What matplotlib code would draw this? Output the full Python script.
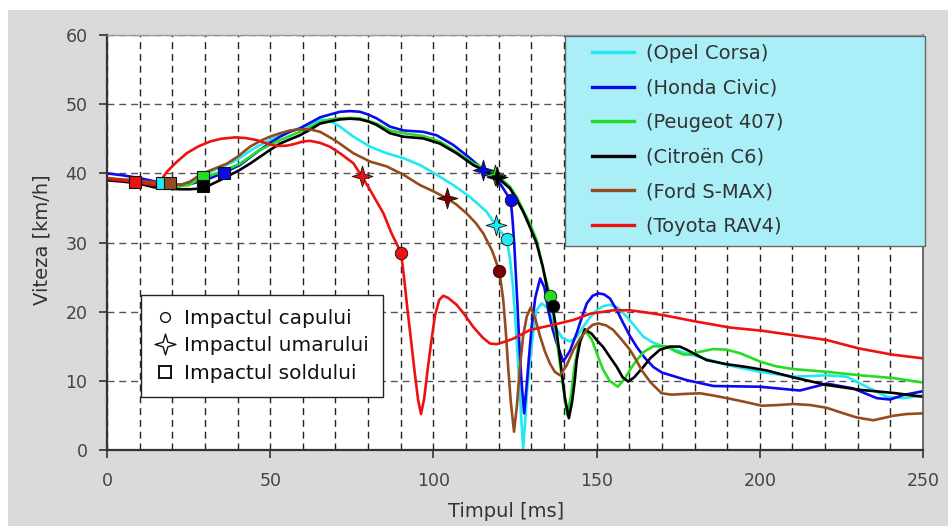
import matplotlib
matplotlib.use("Agg")
import matplotlib.pyplot as plt
import matplotlib.path as mpath
from matplotlib.lines import Line2D
from matplotlib.patches import Rectangle

# ---- data (time in ms, speed in km/h) ----
cars = ["(Opel Corsa)", "(Honda Civic)", "(Peugeot 407)", "(Citroën C6)", "(Ford S-MAX)", "(Toyota RAV4)"]

corsa_t = [0, 5, 10, 14, 16.8, 20, 23, 26.4, 29, 31.6, 35.5, 39.7, 43, 45.9, 49, 52, 55.5, 59.1, 62.2, 65.3,
           68.3, 71.4, 75.5, 80.6, 85.7, 90.8, 95.9, 101, 106.1, 111.2, 116.3, 119.1, 122.5, 123.5, 124.3, 125,
           125.7, 126.4, 127, 127.5, 128.1, 128.7, 129.6, 130.6, 131.6, 133.2, 135, 137.3, 139.5, 141.8, 143.8,
           145.9, 148, 150, 152, 154.1, 156.5, 159.2, 161.5, 164.3, 167, 170.4, 179.6, 189.9, 200, 210.3, 220.5,
           226.6, 232.7, 238.9, 244, 250]
corsa_v = [39.3, 39.1, 38.9, 38.7, 38.65, 38.2, 38.4, 39.0, 39.6, 40.2, 41.0, 41.9, 43.0, 43.85, 44.6, 45.3, 46.0,
           46.5, 47.1, 47.8, 47.6, 46.75, 45.3, 43.85, 42.9, 42.2, 41.2, 39.8, 38.3, 36.6, 34.45, 32.5, 30.45,
           27.5, 24.0, 19.5, 14.5, 9.0, 4.0, 0.3, 4.0, 8.5, 13.0, 17.0, 20.2, 21.2, 20.5, 17.8, 16.2, 15.7, 16.3,
           17.8, 19.2, 20.2, 20.8, 21.0, 20.6, 19.3, 18.0, 16.4, 15.6, 15.0, 13.7, 12.3, 11.3, 10.6, 10.8, 10.6,
           9.15, 7.7, 7.5, 7.9]

civic_t = [0, 5, 10, 15, 20, 25, 30, 35.9, 40.7, 43.8, 46.9, 50, 53, 56, 59.1, 62.2, 65.3, 68.3, 71.4, 74.5, 77.5,
           80, 82.6, 86.7, 90.8, 96.9, 101, 106.1, 111.2, 115.3, 120.4, 123.7, 124.3, 124.8, 125.3, 125.8, 126.3,
           126.9, 127.8, 128.6, 129.3, 130.1, 131.2, 132.7, 134, 135.2, 136.5, 137.8, 139.8, 141.8, 143.9, 145.5,
           147, 148.8, 150.5, 152.3, 154.1, 156.2, 158.2, 160.2, 162.3, 164.8, 167.4, 170, 177.6, 185.8, 200,
           212.3, 220.5, 228.6, 235.8, 239.9, 244, 250]
civic_v = [40.0, 39.7, 39.3, 38.8, 38.3, 38.4, 39.0, 40.1, 41.2, 42.3, 43.4, 44.4, 45.3, 46.0, 46.5, 47.3, 48.1,
           48.5, 48.9, 49.0, 48.9, 48.5, 47.95, 46.75, 46.2, 46.0, 45.5, 44.1, 42.2, 40.5, 38.55, 36.1, 33.0, 29.5,
           25.0, 20.5, 15.5, 10.5, 5.3, 9.5, 13.5, 17.8, 22.0, 24.8, 23.5, 20.2, 17.5, 15.4, 12.8, 14.3, 16.9,
           19.2, 21.2, 22.3, 22.65, 22.5, 21.9, 20.2, 18.3, 16.5, 14.9, 13.3, 12.0, 11.2, 10.1, 9.25, 9.15, 8.6,
           9.6, 8.9, 7.5, 7.3, 7.95, 8.5]

peugeot_t = [0, 5, 10, 15, 20, 25, 29.3, 33.6, 37, 40.7, 43.8, 46.9, 50, 53, 56, 59.1, 62.2, 65.3, 68.3, 71.4, 74.5,
             77.5, 80, 82.6, 86.7, 90.8, 96.9, 102, 107.1, 112.2, 116, 119.4, 123.5, 125.5, 127.5, 129.5, 131.6,
             133.5, 135.7, 137, 138.2, 139.5, 141, 142.2, 143.2, 144.4, 146.4, 148.5, 150.2, 152, 154, 156.5,
             158.5, 160.5, 162.3, 164.5, 167.4, 171.5, 174, 176.6, 178.5, 181.7, 185.8, 189.9, 193.9, 197, 200,
             205, 210.3, 220.5, 230.7, 240.9, 250]
peugeot_v = [39.2, 39.0, 38.8, 38.4, 38.0, 38.3, 39.4, 40.0, 40.6, 41.4, 42.4, 43.4, 44.1, 44.8, 45.4, 46.0, 46.7,
             47.4, 47.8, 47.95, 48.0, 47.95, 47.6, 47.2, 46.2, 45.8, 45.4, 44.6, 43.1, 41.45, 40.6, 39.8, 38.05,
             36.6, 34.7, 32.8, 30.4, 26.5, 22.3, 19.0, 14.5, 10.0, 5.0, 8.0, 12.0, 15.0, 17.3, 16.0, 13.8, 11.6,
             10.0, 9.15, 10.2, 11.8, 13.0, 14.2, 15.0, 15.0, 14.3, 13.8, 13.8, 14.2, 14.6, 14.5, 14.0, 13.4, 12.8,
             12.1, 11.7, 11.3, 10.8, 10.4, 9.75]

citroen_t = [0, 5, 10, 14.2, 18, 22.4, 25.5, 28.5, 31.5, 34.6, 37.5, 40.7, 43.8, 46.9, 50, 53, 56, 59.1, 62.2, 65.3,
             68.3, 71.4, 74.5, 77.5, 80, 82.6, 86.7, 90.8, 96.9, 102, 107.1, 112.2, 116, 119.4, 123.5, 125.5, 127.5,
             129.5, 131.6, 133.5, 135.2, 136.5, 137.8, 139, 140.3, 141.5, 142.5, 143.3, 143.9, 145, 146.4, 148.5,
             150.2, 152, 154, 156.2, 158, 159.7, 161.5, 164.3, 166.5, 169.4, 172.5, 175.5, 177.6, 179.6, 183.7,
             189.9, 196, 202.1, 210.3, 220.5, 230.7, 240.9, 250]
citroen_v = [39.0, 38.8, 38.5, 38.0, 37.8, 37.7, 37.7, 37.8, 38.3, 39.0, 39.7, 40.5, 41.4, 42.4, 43.4, 44.3, 44.9,
             45.5, 46.3, 47.2, 47.5, 47.8, 47.9, 47.8, 47.5, 47.0, 45.8, 45.3, 45.05, 44.3, 42.9, 41.2, 40.3, 39.5,
             37.8, 36.2, 34.45, 32.3, 29.9, 26.5, 22.5, 20.8, 17.0, 12.5, 7.5, 4.6, 7.0, 10.0, 13.0, 15.8, 17.45,
             16.8, 15.8, 14.9, 13.5, 12.0, 10.5, 9.9, 10.5, 12.0, 13.3, 14.5, 14.95, 14.95, 14.5, 14.0, 13.0, 12.4,
             12.0, 11.5, 10.5, 9.4, 8.7, 8.25, 7.7]

ford_t = [0, 5, 10, 15, 19.3, 22.4, 25.5, 28.5, 32, 36.7, 40, 43.8, 47, 49.9, 53, 56.1, 59, 62.2, 65.3, 68.3, 70.4,
          75.5, 80.6, 85.7, 90.8, 95.9, 100, 104.1, 107, 110.2, 113, 115.3, 118, 120.2, 121.4, 122.2, 122.9, 123.7,
          124.7, 125.6, 126.5, 127.5, 128.6, 129.8, 131.2, 132.7, 134.2, 135.7, 137.2, 138.8, 140.8, 142.9, 145,
          147, 148.8, 150.5, 153, 155.1, 157.6, 160.2, 162, 164, 166.5, 169.9, 173, 176.6, 181.7, 185.5, 189.9,
          195, 200.6, 205.5, 210.3, 215.5, 220.5, 225, 229.7, 234.8, 240.9, 245, 250]
ford_v = [39.3, 39.1, 38.9, 38.7, 38.65, 38.3, 38.8, 39.8, 40.5, 41.4, 42.4, 43.85, 44.7, 45.3, 45.8, 46.2, 46.35,
          46.35, 46.0, 45.2, 44.6, 42.9, 41.7, 41.0, 39.8, 38.3, 37.4, 36.4, 35.5, 34.2, 32.8, 31.3, 28.8, 25.9,
          21.7, 17.0, 12.0, 7.0, 2.65, 6.5, 12.0, 16.5, 19.3, 20.6, 19.0, 16.4, 14.2, 12.5, 11.3, 10.8, 12.2, 14.5,
          16.2, 17.35, 18.1, 18.3, 18.0, 17.35, 16.0, 14.5, 13.1, 11.4, 9.8, 8.2, 8.0, 8.1, 8.2, 7.9, 7.5, 7.0,
          6.4, 6.5, 6.65, 6.5, 6.1, 5.4, 4.7, 4.3, 4.95, 5.2, 5.3]

rav4_t = [0, 4, 8.6, 12, 14.7, 16.5, 18.3, 21, 24.4, 28, 31.6, 35, 39.2, 42.5, 45.9, 49, 52, 55, 57.1, 60, 62.2,
          65.3, 68.3, 71.4, 75.5, 78, 80.6, 84.7, 87.2, 90.1, 91, 92, 93, 94.2, 95.3, 96.2, 97.2, 98.2, 99.3, 100.5,
          101.8, 103, 104.5, 107.1, 109.5, 112.2, 115, 117.3, 119.4, 121.5, 124.5, 129.6, 136.7, 142.9, 148, 155.1,
          160.2, 165, 170.4, 180.7, 190.9, 200.6, 210.3, 220.5, 230.2, 240.4, 250]
rav4_v = [39.2, 39.0, 38.8, 38.5, 38.3, 39.0, 40.2, 41.5, 42.9, 43.9, 44.6, 45.0, 45.2, 45.1, 44.8, 44.3, 43.95,
          44.0, 44.2, 44.6, 44.7, 44.4, 43.85, 42.9, 41.45, 39.6, 37.6, 34.2, 31.3, 28.5, 25.0, 20.5, 16.5, 11.5,
          7.3, 5.2, 7.5, 11.5, 15.5, 19.5, 21.7, 22.3, 22.0, 21.0, 19.6, 17.8, 16.3, 15.4, 15.3, 15.6, 16.1, 17.35,
          18.1, 18.8, 19.7, 20.2, 20.2, 19.9, 19.5, 18.55, 17.7, 17.25, 16.6, 15.9, 14.7, 13.8, 13.25]

# impact points per car (Corsa, Civic, 407, C6, S-MAX, RAV4)
head_t = [122.5, 123.7, 135.7, 136.5, 120.2, 90.1]
head_v = [30.45, 36.1, 22.3, 20.8, 25.9, 28.5]
shoulder_t = [119.1, 115.3, 119.0, 119.4, 104.1, 78.0]
shoulder_v = [32.5, 40.5, 39.7, 39.5, 36.4, 39.6]
hip_t = [16.8, 35.9, 29.3, 29.3, 19.3, 8.6]
hip_v = [38.65, 40.1, 39.4, 38.2, 38.65, 38.7]

impact_labels = ["Impactul capului", "Impactul umarului", "Impactul soldului"]

series_t = [corsa_t, civic_t, peugeot_t, citroen_t, ford_t, rav4_t]
series_v = [corsa_v, civic_v, peugeot_v, citroen_v, ford_v, rav4_v]
line_colors = ["#22e8f0", "#0a0aee", "#22dd22", "#000000", "#964b1e", "#ee1111"]
impact_colors = ["#22e8f0", "#0a0aee", "#22dd22", "#000000", "#800000", "#ee1111"]
hip_colors = ["#22e8f0", "#0a0aee", "#22dd22", "#000000", "#964b1e", "#ee1111"]

star = mpath.Path.unit_regular_star(4, 0.32)
text_color = "#333333"

fig = plt.figure(figsize=(9.48, 5.26), dpi=100, facecolor="white")
fig.patches.append(Rectangle((8 / 948, 0), 1, 1 - 10 / 526, transform=fig.transFigure,
                             facecolor="#dadada", edgecolor="none", zorder=-10))
ax = fig.add_axes([107 / 948, 1 - 450 / 526, 816 / 948, 415 / 526])
ax.set_facecolor("white")

for i in range(len(cars)):
    ax.plot(series_t[i], series_v[i], color=line_colors[i], lw=1.9, zorder=2 + i * 0.1,
            solid_joinstyle="round")

for i in range(len(cars)):
    ax.plot(hip_t[i], hip_v[i], marker="s", ms=9, color=hip_colors[i], mec="#111111", mew=0.8,
            ls="none", zorder=5)
    ax.plot(shoulder_t[i], shoulder_v[i], marker=star, ms=15, color=impact_colors[i], mec="#111111",
            mew=0.6, ls="none", zorder=5)
    ax.plot(head_t[i], head_v[i], marker="o", ms=9, color=impact_colors[i], mec="#111111", mew=0.6,
            ls="none", zorder=5)

ax.set_xlim(0, 250)
ax.set_ylim(0, 60)
ax.set_xticks(range(0, 251, 50))
ax.set_xticks(range(0, 251, 10), minor=True)
ax.set_yticks(range(0, 61, 10))
ax.tick_params(axis="both", which="major", direction="out", length=6, width=1.2, color="#333333",
               labelsize=12.5, labelcolor="#444444")
ax.tick_params(axis="x", which="major", pad=10)
ax.tick_params(axis="y", which="major", pad=8)
ax.tick_params(axis="x", which="minor", length=0)
ax.grid(axis="x", which="both", color="#222222", lw=1.0, ls=(0, (5, 3.5)), zorder=1)
ax.grid(axis="y", which="major", color="#555555", lw=1.0, ls=(0, (5, 3.5)), zorder=1)
ax.set_axisbelow(True)

ax.spines["left"].set_color("#333333")
ax.spines["left"].set_linewidth(1.6)
ax.spines["bottom"].set_color("#333333")
ax.spines["bottom"].set_linewidth(1.6)
ax.spines["right"].set_color("#555555")
ax.spines["right"].set_linewidth(1.2)
ax.spines["top"].set_color("#999999")
ax.spines["top"].set_linewidth(1.0)

ax.set_xlabel("Timpul [ms]", fontsize=14, color=text_color)
ax.xaxis.set_label_coords((506 - 107) / 816, (450 - 502) / 415)
ax.set_ylabel("Viteza [km/h]", fontsize=14, color=text_color)
ax.yaxis.set_label_coords((52 - 107) / 816, (450 - 240) / 415)

# car legend: cyan panel drawn as a patch, entries on top
ax.add_patch(Rectangle(((565 - 107) / 816, (450 - 246) / 415), 360 / 816, 210 / 415,
                       transform=ax.transAxes, facecolor="#aaeff7", edgecolor="#666666", lw=1.0,
                       zorder=6, clip_on=False))
car_handles = [Line2D([], [], color=c, lw=2.4) for c in line_colors]
leg1 = ax.legend(car_handles, cars, loc="upper left", bbox_to_anchor=(592 / 948, 1 - 44 / 526),
                 bbox_transform=fig.transFigure, frameon=False, fontsize=14, handlelength=2.15,
                 handletextpad=0.65, labelspacing=0.8, borderpad=0, borderaxespad=0, labelcolor=text_color)
leg1.set_zorder(7)
ax.add_artist(leg1)

impact_handles = [
    Line2D([], [], marker="o", ms=7, mfc="white", mec="#111111", mew=1.0, ls="none"),
    Line2D([], [], marker=star, ms=15, mfc="white", mec="#111111", mew=1.0, ls="none"),
    Line2D([], [], marker="s", ms=8.5, mfc="white", mec="#111111", mew=1.4, ls="none"),
]
leg2 = ax.legend(impact_handles, impact_labels, loc="upper left", bbox_to_anchor=(141 / 948, 1 - 295 / 526),
                 bbox_transform=fig.transFigure, frameon=True, fancybox=False, fontsize=14.5,
                 handlelength=1.0, handletextpad=0.45, labelspacing=0.41, borderpad=0.7, borderaxespad=0,
                 labelcolor="#111111")
leg2.get_frame().set_edgecolor("#222222")
leg2.get_frame().set_linewidth(1.0)
leg2.get_frame().set_facecolor("white")
leg2.get_frame().set_alpha(1)
leg2.set_zorder(7)

fig.savefig("out.png", dpi=100, facecolor=fig.get_facecolor())
